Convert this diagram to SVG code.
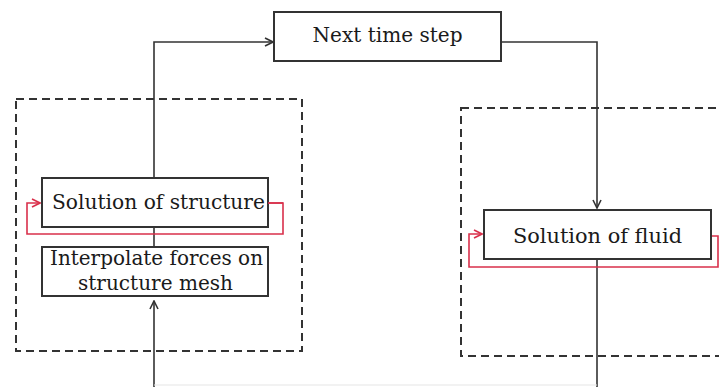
<svg xmlns="http://www.w3.org/2000/svg" width="719" height="387" viewBox="0 0 719 387">
  <style>
    .bg { fill: #ffffff; }
    .box { fill: #ffffff; stroke: #333333; stroke-width: 2; }
    .group { fill: none; stroke: #333333; stroke-width: 2; stroke-dasharray: 8 5; }
    .flow { fill: none; stroke: #333333; stroke-width: 1.6; }
    .loop { fill: none; stroke: #d9304b; stroke-width: 1.6; }
    .faint { fill: none; stroke: #e6e6e6; stroke-width: 1.2; }
    .label { font-family: "DejaVu Serif", "Liberation Serif", serif; font-size: 21px; fill: #1a1a1a; text-anchor: middle; }
  </style>
  <defs>
    <marker id="chev" viewBox="0 0 10 10" refX="9" refY="5" markerWidth="10" markerHeight="10" markerUnits="userSpaceOnUse" orient="auto">
      <path d="M1,1 L9,5 L1,9" fill="none" stroke="#333333" stroke-width="1.6"/>
    </marker>
    <marker id="chev-red" viewBox="0 0 10 10" refX="9" refY="5" markerWidth="10" markerHeight="10" markerUnits="userSpaceOnUse" orient="auto">
      <path d="M1,1 L9,5 L1,9" fill="none" stroke="#d9304b" stroke-width="1.6"/>
    </marker>
  </defs>

  <rect class="bg" x="0" y="0" width="719" height="387"/>

  <!-- dashed sub-system frames -->
  <g id="structure-frame">
    <rect class="group" x="16" y="99" width="286" height="252"/>
  </g>
  <g id="fluid-frame">
    <rect class="group" x="461" y="108" width="280" height="248"/>
  </g>

  <!-- connectors -->
  <g id="connectors">
    <path class="flow" d="M154,178 L154,42 L273,42" marker-end="url(#chev)"/>
    <path class="flow" d="M501,42 L597,42 L597,208" marker-end="url(#chev)"/>
    <path class="flow" d="M154,227 L154,247"/>
    <path class="flow" d="M154,387 L154,301" marker-end="url(#chev)"/>
    <path class="flow" d="M597,259 L597,387"/>
    <path class="faint" d="M154,385 L597,385"/>
    <path class="loop" d="M268,203 L283,203 L283,234 L27,234 L27,203 L40,203" marker-end="url(#chev-red)"/>
    <path class="loop" d="M711,236 L718,236 L718,267 L469,267 L469,234 L482,234" marker-end="url(#chev-red)"/>
  </g>

  <!-- nodes -->
  <g id="next-time-step">
    <rect class="box" x="274" y="12" width="227" height="49"/>
    <text class="label" x="387.5" y="42" textLength="150" lengthAdjust="spacingAndGlyphs">Next time step</text>
  </g>
  <g id="solution-structure">
    <rect class="box" x="42" y="178" width="226" height="49"/>
    <text class="label" x="158.5" y="209" textLength="213" lengthAdjust="spacingAndGlyphs">Solution of structure</text>
  </g>
  <g id="interpolate-forces">
    <rect class="box" x="42" y="247" width="226" height="49"/>
    <text class="label" x="156.5" y="265" textLength="213" lengthAdjust="spacingAndGlyphs">Interpolate forces on</text>
    <text class="label" x="155.5" y="290" textLength="155" lengthAdjust="spacingAndGlyphs">structure mesh</text>
  </g>
  <g id="solution-fluid">
    <rect class="box" x="484" y="210" width="227" height="49"/>
    <text class="label" x="597.5" y="243" textLength="169" lengthAdjust="spacingAndGlyphs">Solution of fluid</text>
  </g>

  <!-- loop lines pass over the structure box edge -->
  <g id="loop-overlay">
    <path class="loop" d="M268,203 L283,203"/>
  </g>
</svg>
